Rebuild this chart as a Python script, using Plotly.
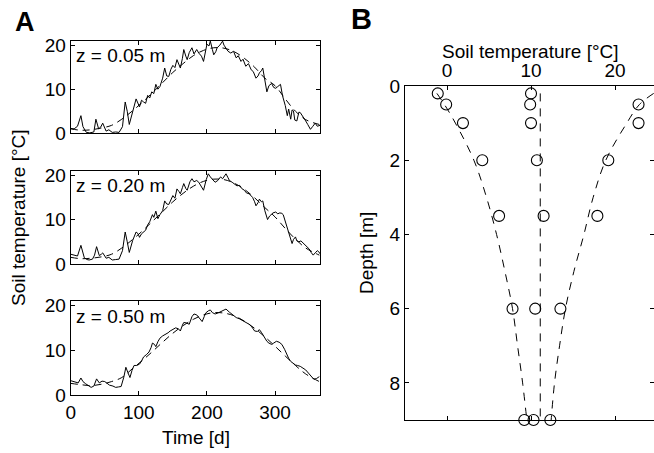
import plotly.graph_objects as go

W, H = 654, 453
FONT = "Liberation Sans, Arial, sans-serif"
FS = 19

# ---------------- Panel A data (day of year, soil temperature °C) ----------------
days_005 = [0,5,10,15,18,23,28,34,37,41,44,47,52,56,61,66,71,76,80,83,86,91,96,101,104,107,110,113,116,119,122,125,128,131,135,138,141,144,147,150,153,156,159,161,164,166,169,171,174,178,181,185,188,192,195,198,200,203,205,208,210,213,215,219,223,225,228,231,235,239,243,246,250,253,257,261,265,268,272,275,277,280,282,285,288,291,295,298,301,304,308,311,315,318,320,323,325,327,329,332,335,337,340,343,345,348,352,355,359,362,366]
temp_005 = [1.1,1.0,1.6,4.0,1.5,0.2,0.1,0.3,3.2,1.0,1.4,2.3,0.5,0.8,0.2,0.3,0.2,1.5,7.1,5.0,2.0,5.0,7.8,6.0,7.5,7.1,6.8,8.6,8.0,9.4,9.0,11.1,10.0,10.6,12.5,14.8,13.0,12.9,14.5,15.4,14.9,16.7,15.5,14.8,17.0,19.0,17.5,16.7,18.3,19.4,18.0,19.0,18.2,17.5,16.3,18.5,20.2,19.8,20.9,19.0,17.8,18.5,19.4,20.0,20.9,20.0,19.4,18.6,18.2,18.6,17.1,17.6,16.3,16.8,15.2,15.8,14.4,14.0,12.5,13.0,13.7,14.2,14.8,11.5,9.4,10.8,11.3,10.4,10.2,10.6,11.1,8.5,6.3,4.0,5.5,3.2,5.3,5.1,3.0,2.8,4.8,4.7,4.0,3.5,2.8,2.0,0.9,1.5,2.3,1.6,1.8]

days_020 = [0,5,10,15,18,20,24,27,32,35,38,42,45,47,50,52,56,61,66,71,76,80,83,86,91,96,99,101,104,107,110,113,116,120,122,125,128,131,135,138,141,144,147,150,153,156,159,161,164,166,169,171,175,178,181,185,188,192,195,199,202,205,207,210,212,216,220,223,226,228,231,233,237,240,244,248,251,255,258,262,265,267,270,272,275,277,280,282,285,289,292,295,297,301,304,307,310,312,315,318,321,323,325,327,330,332,335,338,342,345,348,350,353,356,359,362,364,366]
temp_020 = [2.2,2.0,1.8,4.2,2.5,1.4,1.0,0.9,1.1,2.0,3.9,1.9,2.2,2.5,1.8,1.3,1.5,0.9,1.0,1.1,3.0,7.2,5.0,2.6,5.3,7.2,6.8,6.0,6.8,7.2,7.6,8.8,9.5,11.1,10.5,11.9,10.2,11.1,12.0,14.2,13.5,13.4,14.6,15.4,14.8,16.9,16.3,15.8,17.2,18.1,17.0,16.6,18.5,19.2,18.5,18.8,18.4,17.2,16.6,19.0,20.3,19.6,19.2,18.8,18.4,18.8,19.6,19.2,19.8,20.3,19.4,18.8,18.4,18.1,17.6,17.7,17.0,16.6,16.0,15.8,15.4,15.0,14.0,13.1,13.8,14.6,14.0,14.2,12.0,10.0,10.8,11.2,11.5,11.7,11.3,11.5,11.4,11.1,9.6,8.1,6.8,5.5,4.6,5.5,6.1,5.2,5.0,5.2,4.6,4.2,3.8,3.4,2.6,2.0,2.5,3.0,2.8,2.3]

days_050 = [0,4,8,11,15,18,22,26,30,34,38,42,46,50,54,57,62,66,70,74,78,81,84,87,90,93,97,101,104,107,111,115,118,120,123,125,128,131,135,139,143,146,150,154,158,161,164,166,170,174,178,181,185,189,193,196,198,202,205,208,212,216,220,223,226,228,233,238,243,248,253,258,262,266,270,274,277,280,282,285,288,291,295,298,302,306,310,314,317,320,323,327,330,333,337,341,345,349,352,355,357,361,365]
temp_050 = [3.2,3.0,2.9,2.7,3.8,3.0,2.5,2.1,1.7,2.0,3.6,2.7,3.1,3.0,2.6,2.2,2.0,1.7,1.8,1.9,4.0,6.2,5.0,3.9,5.5,6.6,6.6,6.9,7.6,8.5,9.0,9.6,10.6,11.6,11.3,10.8,11.9,12.7,13.2,13.5,13.9,14.3,14.7,15.0,14.8,14.3,15.6,16.2,16.1,15.8,17.5,18.1,17.9,17.2,16.4,17.5,18.3,18.8,19.0,18.4,18.1,18.3,18.6,18.8,19.0,19.2,18.5,17.9,17.3,17.0,16.6,16.2,15.8,15.2,14.3,14.2,14.6,14.0,13.5,12.8,12.0,11.6,11.3,11.6,12.0,11.8,11.3,10.2,9.0,8.2,7.5,7.0,6.7,6.6,6.4,6.0,5.6,4.9,4.4,3.9,3.5,3.7,4.1]

fit_days = [0,15,30,45,60,75,90,105,120,135,150,165,180,195,210,225,240,255,270,285,300,315,330,345,365]
fit_005 = [1.0,0.7,0.8,1.2,1.8,3.2,5.0,7.0,9.2,11.5,13.8,15.8,17.6,18.8,19.4,19.3,18.5,17.0,15.0,12.5,10.8,7.8,5.0,3.1,2.0]
fit_020 = [1.5,1.2,1.3,1.6,2.2,3.6,5.4,7.4,9.6,11.8,14.0,15.9,17.5,18.6,19.1,19.0,18.2,16.8,14.9,12.7,10.6,8.0,5.6,3.6,2.0]
fit_050 = [2.6,2.3,2.1,2.4,3.0,3.9,5.8,7.7,9.7,11.8,13.8,15.5,16.9,17.9,18.4,18.3,17.7,16.5,14.9,13.0,10.9,8.7,6.6,4.7,3.0]

depth_labels = ["z = 0.05 m", "z = 0.20 m", "z = 0.50 m"]
time_ticks = [0, 100, 200, 300]
temp_ticks = [0, 10, 20]

# ---------------- Panel B data (depth m, temperature °C) ----------------
obs_depth = [0.2, 0.5, 1, 2, 3.5, 6, 9]
obs_winter = [-1.1, -0.1, 1.9, 4.2, 6.2, 7.8, 9.2]
obs_mean = [10.0, 9.9, 10.0, 10.7, 11.5, 10.5, 10.3]
obs_summer = [24.8, 22.8, 22.8, 19.2, 17.9, 13.5, 12.3]

env_depth = [0.2, 0.5, 1, 2, 3, 4, 5, 6, 7, 8, 9]
env_low = [-1.2, -0.3, 1.0, 3.2, 4.7, 5.9, 6.9, 7.8, 8.4, 9.0, 9.5]
env_high = [24.6, 22.9, 21.4, 18.9, 17.4, 16.3, 15.1, 14.1, 13.4, 12.8, 12.4]
mean_depth = [0.2, 9]
mean_temp = [11.1, 11.1]

b_xticks = [0, 10, 20]
b_yticks = [0, 2, 4, 6, 8]

fig = go.Figure()

series = [(days_005, temp_005, fit_005), (days_020, temp_020, fit_020), (days_050, temp_050, fit_050)]
for i, (d, t, f) in enumerate(series):
    xa = "x" if i == 0 else f"x{i+1}"
    ya = "y" if i == 0 else f"y{i+1}"
    fig.add_trace(go.Scatter(x=fit_days, y=f, mode="lines", xaxis=xa, yaxis=ya,
                             line=dict(color="black", width=1, dash="7px,5px", shape="spline"),
                             showlegend=False, hoverinfo="skip"))
    fig.add_trace(go.Scatter(x=d, y=t, mode="lines", xaxis=xa, yaxis=ya,
                             line=dict(color="black", width=1), showlegend=False))

for xs in (env_low, env_high):
    fig.add_trace(go.Scatter(x=xs, y=env_depth, mode="lines", xaxis="x4", yaxis="y4",
                             line=dict(color="black", width=1, dash="8px,7px", shape="spline"),
                             showlegend=False))
fig.add_trace(go.Scatter(x=mean_temp, y=mean_depth, mode="lines", xaxis="x4", yaxis="y4",
                         line=dict(color="black", width=1, dash="8px,7px"), showlegend=False))
for xs in (obs_winter, obs_mean, obs_summer):
    fig.add_trace(go.Scatter(x=xs, y=obs_depth, mode="markers", xaxis="x4", yaxis="y4",
                             marker=dict(symbol="circle-open", size=11, color="black",
                                         line=dict(width=1.1, color="black")),
                             cliponaxis=False, showlegend=False))

def px_x(p):
    return p / W

def px_y(p):
    return 1 - p / H

axis_common = dict(showline=True, linecolor="black", linewidth=1, mirror="ticks",
                   ticks="inside", ticklen=4, tickcolor="black", tickwidth=1,
                   showgrid=False, zeroline=False, automargin=False,
                   tickfont=dict(family=FONT, size=FS, color="black"))

a_xdom = [px_x(70.7), px_x(320)]
a_ydoms = [[px_y(133.3), px_y(40.7)], [px_y(264), px_y(170.7)], [px_y(395), px_y(301)]]

layout = dict(template="none", width=W, height=H, margin=dict(l=0, r=0, t=0, b=0, pad=0),
              autosize=False, paper_bgcolor="white", plot_bgcolor="white",
              font=dict(family=FONT, size=FS, color="black"))

for i in range(3):
    xk = "xaxis" if i == 0 else f"xaxis{i+1}"
    yk = "yaxis" if i == 0 else f"yaxis{i+1}"
    ya = "y" if i == 0 else f"y{i+1}"
    xa = "x" if i == 0 else f"x{i+1}"
    layout[xk] = dict(axis_common, domain=a_xdom, anchor=ya, range=[0, 366],
                      tickvals=time_ticks, showticklabels=(i == 2))
    layout[yk] = dict(axis_common, domain=a_ydoms[i], anchor=xa, range=[0, 21],
                      tickvals=temp_ticks)

layout["xaxis4"] = dict(axis_common, domain=[px_x(405), 1.0], anchor="y4", side="top",
                        range=[-5, 24.64], tickvals=b_xticks)
layout["yaxis4"] = dict(axis_common, domain=[px_y(420), px_y(86)], anchor="x4",
                        range=[9, 0], tickvals=b_yticks)

fig.update_layout(**layout)

ann = []
for i, lab in enumerate(depth_labels):
    top = [40.7, 170.7, 301][i]
    ann.append(dict(text=lab, x=px_x(74), y=px_y(top + 15), xref="paper", yref="paper",
                    xanchor="left", yanchor="middle", showarrow=False,
                    font=dict(family=FONT, size=FS, color="black")))
ann.append(dict(text="Time [d]", x=px_x(196), y=px_y(437), xref="paper", yref="paper",
                xanchor="center", yanchor="middle", showarrow=False,
                font=dict(family=FONT, size=FS, color="black")))
ann.append(dict(text="Soil temperature [°C]", x=px_x(18), y=px_y(218), xref="paper", yref="paper",
                xanchor="center", yanchor="middle", showarrow=False, textangle=-90,
                font=dict(family=FONT, size=FS, color="black")))
ann.append(dict(text="Soil temperature [°C]", x=px_x(530), y=px_y(51), xref="paper", yref="paper",
                xanchor="center", yanchor="middle", showarrow=False,
                font=dict(family=FONT, size=FS, color="black")))
ann.append(dict(text="Depth [m]", x=px_x(367), y=px_y(253), xref="paper", yref="paper",
                xanchor="center", yanchor="middle", showarrow=False, textangle=-90,
                font=dict(family=FONT, size=FS, color="black")))
ann.append(dict(text="<b>A</b>", x=px_x(25), y=px_y(22), xref="paper", yref="paper",
                xanchor="center", yanchor="middle", showarrow=False,
                font=dict(family=FONT, size=27, color="black")))
ann.append(dict(text="<b>B</b>", x=px_x(361), y=px_y(19), xref="paper", yref="paper",
                xanchor="center", yanchor="middle", showarrow=False,
                font=dict(family=FONT, size=29, color="black")))
fig.update_layout(annotations=ann)

fig.write_html("out.html", config={"displayModeBar": False},
               post_script="document.body.style.margin='0';document.body.style.overflow='hidden';")
